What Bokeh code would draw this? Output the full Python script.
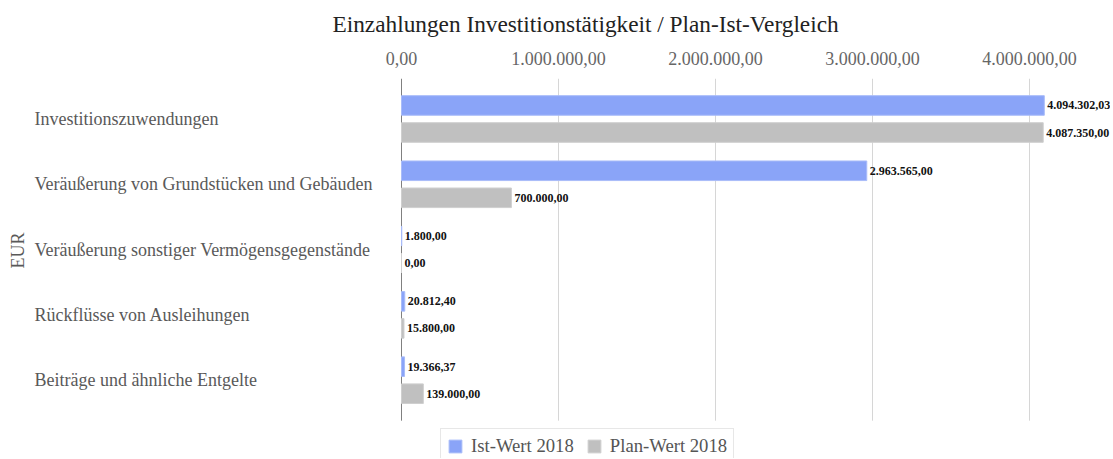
import math
from bokeh.plotting import figure
from bokeh.models import (ColumnDataSource, Range1d, FixedTicker, CustomJSTickFormatter,
                          LabelSet, Label, Legend, LegendItem, Title)
from bokeh.transform import dodge
from bokeh.core.properties import value
from bokeh.embed import file_html
from bokeh.resources import INLINE

# ---------------- data ----------------
categories = [
    "Investitionszuwendungen",
    "Veräußerung von Grundstücken und Gebäuden",
    "Veräußerung sonstiger Vermögensgegenstände",
    "Rückflüsse von Ausleihungen",
    "Beiträge und ähnliche Entgelte",
]
ist_2018 = [4094302.03, 2963565.00, 1800.00, 20812.40, 19366.37]
plan_2018 = [4087350.00, 700000.00, 0.00, 15800.00, 139000.00]
x_ticks = [0, 1000000, 2000000, 3000000, 4000000]
series_names = ["Ist-Wert 2018", "Plan-Wert 2018"]
title_text = "Einzahlungen Investitionstätigkeit / Plan-Ist-Vergleich"
axis_title = "EUR"


def de_fmt(v):
    s = f"{v:,.2f}"
    return s.replace(",", "X").replace(".", ",").replace("X", ".")


FONT = "Liberation Serif"
BLUE, BLUE_EDGE = "#8aa4f8", "#a9bcf9"
GRAY, GRAY_EDGE = "#c0c0c0", "#cfcfcf"
BAND = 0.62      # half-extent of the category band beyond first/last category
OFF = 0.207      # dodge offset of the two bars
BAR_H = 0.30

n = len(categories)
src = ColumnDataSource(dict(
    cat=categories,
    pos=list(range(n)),
    ist=ist_2018,
    plan=plan_2018,
    ist_lbl=[de_fmt(v) for v in ist_2018],
    plan_lbl=[de_fmt(v) for v in plan_2018],
    zero=[0.0] * n,
))
grid_src = ColumnDataSource(dict(
    x=x_ticks,
    y0=[-BAND] * len(x_ticks),
    y1=[n - 1 + BAND] * len(x_ticks),
    color=["#808080"] + ["#d6d6d6"] * (len(x_ticks) - 1),
))

W, H = 1110, 458
TOP = 78
PX_PER_UNIT = 157 / 1e6      # pixels per EUR on the x axis
ZERO_PX = 401                # screen x of 0 EUR
PX_PER_CAT = 65.3
p = figure(
    width=W, height=H,
    x_range=Range1d(-ZERO_PX / PX_PER_UNIT, (W - ZERO_PX) / PX_PER_UNIT),
    y_range=Range1d(-BAND + (H - TOP) / PX_PER_CAT, -BAND),
    x_axis_location="above",
    output_backend="svg", toolbar_location=None,
    min_border_left=0, min_border_right=0, min_border_top=TOP, min_border_bottom=0,
    outline_line_color=None,
)

p.add_layout(Title(text=title_text, align="left", offset=332, standoff=20, vertical_align="top",
                   text_font=FONT, text_font_size="23.3px", text_font_style="normal",
                   text_color="#222222"), "above")

p.segment(x0="x", x1="x", y0="y0", y1="y1", source=grid_src, line_color="color", line_width=1)

r_ist = p.hbar(y=dodge("pos", -OFF), right="ist", height=BAR_H,
               source=src, fill_color=BLUE, line_color=BLUE_EDGE, line_width=1)
r_plan = p.hbar(y=dodge("pos", OFF), right="plan", height=BAR_H,
                source=src, fill_color=GRAY, line_color=GRAY_EDGE, line_width=1)

# axes
p.xaxis.ticker = FixedTicker(ticks=x_ticks)
p.xaxis.formatter = CustomJSTickFormatter(code="""
const parts = tick.toFixed(2).split('.');
parts[0] = parts[0].replace(/\\B(?=(\\d{3})+(?!\\d))/g, '.');
return parts[0] + ',' + parts[1];
""")
p.xaxis.axis_line_color = None
p.xaxis.major_tick_line_color = None
p.xaxis.minor_tick_line_color = None
p.xaxis.major_tick_out = 0
p.xaxis.major_tick_in = 0
p.xaxis.major_label_standoff = 14
p.xaxis.major_label_text_font = FONT
p.xaxis.major_label_text_font_size = "18px"
p.xaxis.major_label_text_color = "#666666"
p.yaxis.visible = False
p.xgrid.visible = False
p.ygrid.visible = False

# category labels (left aligned)
p.add_layout(LabelSet(x="zero", y="pos", text="cat", source=src, x_offset=-367,
                      text_align="left", text_baseline="middle",
                      text_font=value(FONT), text_font_size="18px", text_color="#595959"))

# value labels
for col, off in (("ist", -OFF), ("plan", OFF)):
    p.add_layout(LabelSet(x=col, y=dodge("pos", off), text=col + "_lbl", source=src,
                          x_offset=3, text_align="left", text_baseline="middle",
                          text_font=value(FONT), text_font_size="12px", text_font_style="bold",
                          text_color="#111111"))

p.add_layout(Label(x=17, y=H - 250, x_units="screen", y_units="screen", text=axis_title,
                   angle=math.pi / 2, text_align="center", text_baseline="middle",
                   text_font=FONT, text_font_size="18px", text_color="#595959"))

legend = Legend(items=[LegendItem(label=series_names[0], renderers=[r_ist]),
                       LegendItem(label=series_names[1], renderers=[r_plan])],
                orientation="horizontal", location=(440, -6),
                label_text_font=FONT, label_text_font_size="18.7px", label_text_color="#555555",
                glyph_width=16, glyph_height=16, label_standoff=8, spacing=12,
                padding=6, margin=0, border_line_color="#d0d0d0", label_height=18)
p.add_layout(legend)

open("out.html", "w").write(file_html(p, INLINE))
